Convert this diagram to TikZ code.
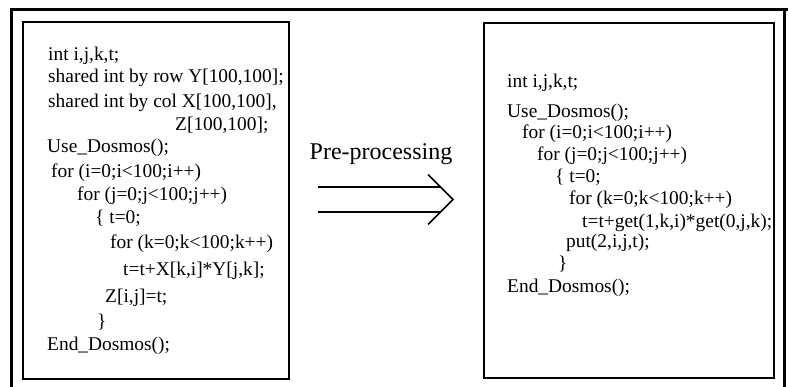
\documentclass[tikz,border=0pt]{standalone}
\usepackage{fontspec}
\setmainfont{Liberation Serif}
\usepackage{xcolor}
\usetikzlibrary{positioning,calc}
\definecolor{ink}{HTML}{000000}
\tikzset{
  frame/.style={draw=ink, line width=3pt},
  codebox/.style={draw=ink, fill=white, line width=1.9pt, inner sep=0pt,
                  anchor=north west},
  codeline/.style={anchor=base west, inner sep=0pt, text=ink,
                   font=\fontsize{19.4}{22}\selectfont},
  biglabel/.style={anchor=base, inner sep=0pt, text=ink,
                   font=\fontsize{24}{28}\selectfont},
  thick line/.style={draw=ink, line width=1.6pt}
}

\begin{document}
\begin{tikzpicture}[x=1pt,y=-1pt]
    \useasboundingbox (0,0) rectangle (788,387);
    % ===== outer frame (open at the bottom) =====
    \draw[frame] (11.5,387) -- (11.5,9.5) -- (788,9.5);
    \draw[frame] (784.5,9.5) -- (784.5,387);

    % ===== source program =====
    \node[codebox, minimum width=266pt, minimum height=357pt] (srcbox) at (22,21) {};
    \node[codeline] (s1)  at (48,61)  {int i,j,k,t;};
    \node[codeline] (s2)  at (48,83)  {shared int by row Y[100,100];};
    \node[codeline] (s3)  at (48,108) {shared int by col X[100,100],};
    \node[codeline] (s4)  at (175,131) {Z[100,100];};
    \node[codeline] (s5)  at (47,153) {Use\_Dosmos();};
    \node[codeline] (s6)  at (51,178) {for (i=0;i<100;i++)};
    \node[codeline] (s7)  at (77,201) {for (j=0;j<100;j++)};
    \node[codeline] (s8)  at (95,224) {\{ t=0;};
    \node[codeline] (s9)  at (110,249) {for (k=0;k<100;k++)};
    \node[codeline] (s10) at (123,276) {t=t+X[k,i]*Y[j,k];};
    \node[codeline] (s11) at (105,303) {Z[i,j]=t;};
    \node[codeline] (s12) at (97,328) {\}};
    \node[codeline] (s13) at (47,351) {End\_Dosmos();};

    % ===== transformation arrow =====
    \node[biglabel] (prep) at (381,160) {Pre-processing};
    \coordinate (arrtip) at (453,199.5);
    \coordinate (arrup) at (428,174.5);
    \coordinate (arrlow) at (428,224.5);
    \draw[thick line] (318,187) -- (441,187);
    \draw[thick line] (318,212) -- (441,212);
    \draw[thick line] (arrup) -- (arrtip) -- (arrlow);

    % ===== pre-processed program =====
    \node[codebox, minimum width=290pt, minimum height=355pt] (dstbox) at (483,22) {};
    \node[codeline] (d1)  at (507,88)  {int i,j,k,t;};
    \node[codeline] (d2)  at (507,118) {Use\_Dosmos();};
    \node[codeline] (d3)  at (522,139) {for (i=0;i<100;i++)};
    \node[codeline] (d4)  at (537,161) {for (j=0;j<100;j++)};
    \node[codeline] (d5)  at (555,183) {\{ t=0;};
    \node[codeline] (d6)  at (569,205) {for (k=0;k<100;k++)};
    \node[codeline] (d7)  at (582,228) {t=t+get(1,k,i)*get(0,j,k);};
    \node[codeline] (d8)  at (566,248) {put(2,i,j,t);};
    \node[codeline] (d9)  at (558,270) {\}};
    \node[codeline] (d10) at (507,293) {End\_Dosmos();};
\end{tikzpicture}
\end{document}
